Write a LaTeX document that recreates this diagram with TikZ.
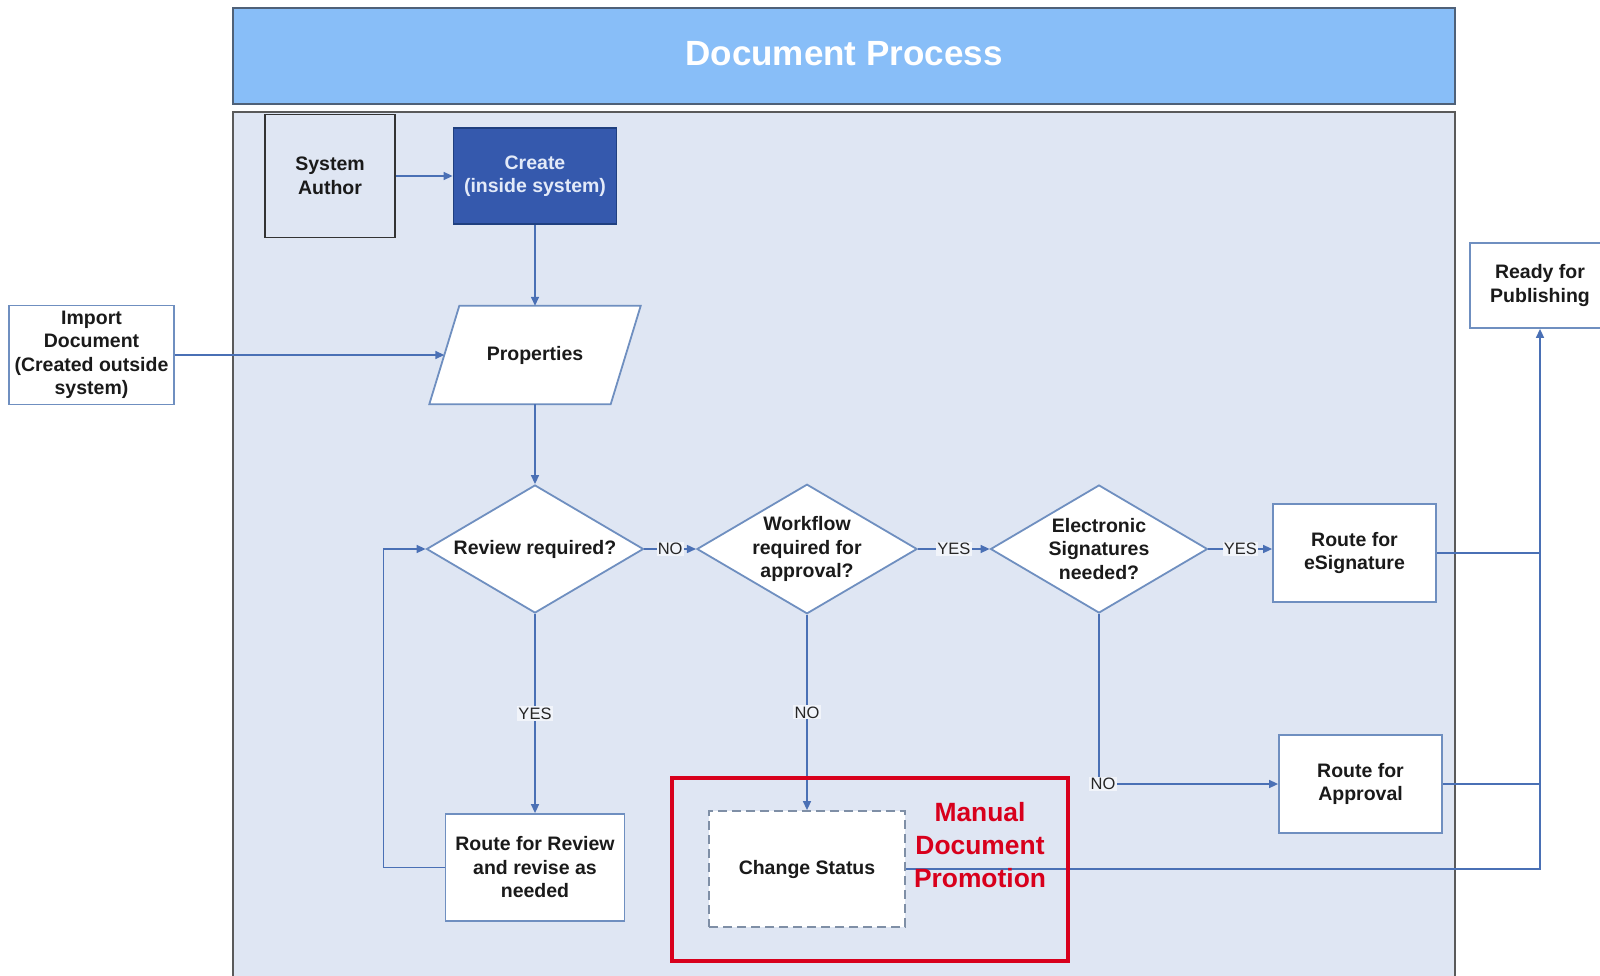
\documentclass[tikz,border=0pt]{standalone}
\usepackage{fontspec}
\setmainfont{Liberation Sans}
\usetikzlibrary{shapes.geometric,arrows.meta,calc}

\definecolor{hdrfill}{HTML}{88BEF8}
\definecolor{hdrline}{HTML}{4F6178}
\definecolor{panelfill}{HTML}{DFE6F3}
\definecolor{panelline}{HTML}{5A5A5A}
\definecolor{createfill}{HTML}{3559AD}
\definecolor{createline}{HTML}{1F3F7F}
\definecolor{createtext}{HTML}{E3EAF8}
\definecolor{link}{HTML}{4A70B5}
\definecolor{boxline}{HTML}{6F8FC0}
\definecolor{dashline}{HTML}{7F8FA6}
\definecolor{promo}{HTML}{D8001C}
\definecolor{textcol}{HTML}{1A1A1A}

\begin{document}
\begin{tikzpicture}[x=1pt,y=-1pt,
  every node/.style={font=\fontsize{19.5}{23.5}\selectfont\bfseries,
    align=center, inner sep=0pt, text=textcol},
  box/.style={rectangle, draw=boxline, line width=1.8pt, fill=white},
  decision/.style={diamond, aspect=1.7, draw=boxline, line width=1.8pt,
    fill=white, minimum width=217pt, minimum height=128pt},
  flow/.style={draw=link, line width=1.5pt},
  arr/.style={flow, -{Triangle[length=9pt,width=8pt]}},
  lab/.style={font=\fontsize{16.5}{16.5}\selectfont, fill=white!55!panelfill,
    inner sep=1.2pt, text=black!85}
]
% page
\fill[white] (0,0) rectangle (1600,976);
\useasboundingbox (0,0) rectangle (1600,976);

% title bar and swimlane panel
\node[rectangle, draw=hdrline, line width=2.5pt, fill=hdrfill,
  minimum width=1222pt, minimum height=96pt] (header) at (844,56) {};
\node[font=\fontsize{35}{40}\selectfont\bfseries, text=white] (title) at (844,54) {Document Process};
\node[rectangle, draw=panelline, line width=2pt, fill=panelfill,
  minimum width=1222pt, minimum height=878pt] (panel) at (844,551) {};

% process steps
\node[rectangle, draw=black!80, line width=1.8pt, fill=panelfill,
  minimum width=130pt, minimum height=123pt] (auth) at (330,176) {System\\Author};
\node[rectangle, draw=createline, line width=1.8pt, fill=createfill, text=createtext,
  minimum width=163pt, minimum height=96pt] (create) at (535,176) {Create\\(inside system)};
\node[box, minimum width=165pt, minimum height=99pt] (imp) at (91.5,355)
  {Import\\Document\\(Created outside\\system)};

% data step: parallelogram drawn around a plain node
\node[rectangle, minimum width=181pt, minimum height=98pt] (prop) at (535,355) {};
\filldraw[draw=boxline, fill=white, line width=1.8pt, line join=miter]
  ($(prop.north west)+(15,0)$) -- ($(prop.north east)+(15,0)$)
  -- ($(prop.south east)+(-15,0)$) -- ($(prop.south west)+(-15,0)$) -- cycle;
\node (proptxt) at (prop.center) {Properties};

\node[decision] (rev) at (535,549) {Review required?};
\node[decision] (wf) at (807,549) {Workflow\\required for\\approval?};
\node[decision] (esig) at (1099,549) {Electronic\\Signatures\\needed?};
\node[box, minimum width=163pt, minimum height=98pt] (resig) at (1354.5,553) {Route for\\eSignature};
\node[box, minimum width=140pt, minimum height=85pt] (ready) at (1540,285.5) {Ready for\\Publishing};
\node[box, minimum width=163pt, minimum height=98pt] (rapp) at (1360.5,784) {Route for\\Approval};
\node[box, minimum width=179pt, minimum height=107pt] (rrev) at (535,867.5)
  {Route for Review\\and revise as\\needed};
\node[rectangle, draw=dashline, line width=1.8pt, dash pattern=on 9pt off 5pt, fill=white,
  minimum width=196pt, minimum height=116pt] (chg) at (807,869) {Change Status};

% connectors
\draw[arr] (auth.east) -- (auth.east -| create.west);
\draw[arr] (create) -- (prop);
\draw[arr] (imp) -- (prop);
\draw[arr] (prop) -- (rev);
\draw[arr] (rev) -- node[lab] {NO} (wf);
\draw[arr] (wf) -- node[lab] {YES} (esig);
\draw[arr] (esig.east) -- node[lab] {YES} (esig.east -| resig.west);
\draw[arr] (rev) -- node[lab] {YES} (rrev);
\draw[arr] (wf) -- node[lab] {NO} (chg);
\draw[arr] (esig.south) |- node[lab, xshift=4pt] {NO} (rapp.west);
\draw[arr] (rrev.west) -- ++(-61,0) |- (rev.west);
\draw[flow] (resig.east) -- (resig.east -| ready.south);
\draw[flow] (rapp.east) -- (rapp.east -| ready.south);
\draw[arr] (chg.east) -| (ready.south);

% manual promotion frame
\node[rectangle, draw=promo, line width=4pt, minimum width=396pt,
  minimum height=183pt] (manual) at (870,869.5) {};
\node[font=\fontsize{26.4}{32.6}\selectfont\bfseries, text=promo] (manualtxt) at (980,845)
  {Manual\\Document\\Promotion};
\end{tikzpicture}
\end{document}
